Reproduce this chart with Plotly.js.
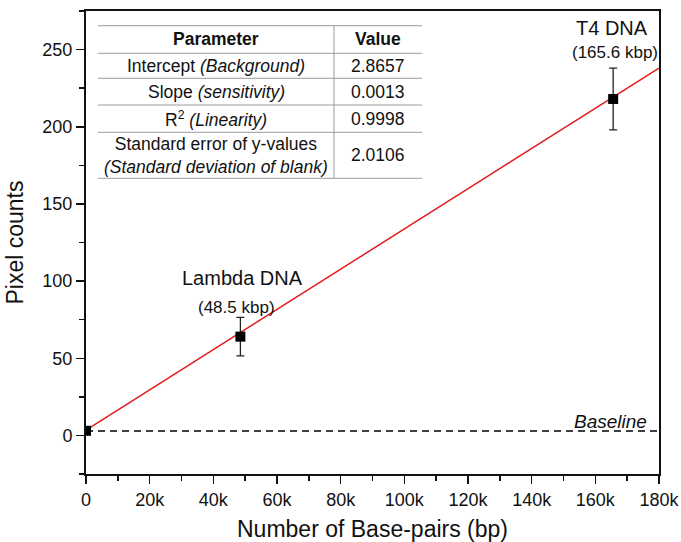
<!DOCTYPE html>
<html>
<head>
<meta charset="utf-8">
<script src="https://cdn.plot.ly/plotly-3.0.1.min.js"></script>
<style>html,body{margin:0;padding:0;background:#fff;}#chart{width:681px;height:542px;}</style>
</head>
<body>
<div id="chart"></div>
<script>
// ---- data ----
const sampleNames = ["Blank", "Lambda DNA", "T4 DNA"];
const sizeLabels = ["", "(48.5 kbp)", "(165.6 kbp)"];
const basePairs = [0, 48500, 165600];
const pixelCounts = [3, 64, 218];
const pixelErrors = [1, 12.5, 20];
const fitX = [0, 180000];
const fitY = [3.5, 238];
const baselineY = 2.8657;
const xTickVals = [0, 20000, 40000, 60000, 80000, 100000, 120000, 140000, 160000, 180000];
const xTickText = ["0", "20k", "40k", "60k", "80k", "100k", "120k", "140k", "160k", "180k"];
const yTickVals = [0, 50, 100, 150, 200, 250];
const tableHeader = ["Parameter", "Value"];
const tableParams = ["Intercept <i>(Background)</i>", "Slope <i>(sensitivity)</i>", "R<sup>2</sup> <i>(Linearity)</i>", "Standard error of y-values<br><i>(Standard deviation of blank)</i>"];
const tableValues = ["2.8657", "0.0013", "0.9998", "2.0106"];

// ---- layout geometry ----
const W = 681, H = 542;
const M = {l: 86, r: 22, t: 11, b: 68};
const PW = W - M.l - M.r, PH = H - M.t - M.b;
const px = x => (x - M.l) / PW;
const py = y => (H - M.b - y) / PH;
const FONT = "Liberation Sans, Arial, sans-serif";
const TXT = "#111";

const traces = [
  {x: fitX, y: fitY, mode: "lines", line: {color: "#e41a1c", width: 1.5}, hoverinfo: "skip", showlegend: false},
  {x: [fitX[0], fitX[1]], y: [baselineY, baselineY], mode: "lines", line: {color: "#000", width: 1.4, dash: "7px,5px"}, showlegend: false},
  {x: basePairs, y: pixelCounts, mode: "markers", marker: {symbol: "square", size: 10, color: "#000"},
   error_y: {type: "data", array: pixelErrors, visible: true, color: "#222", thickness: 1.3, width: 4}, showlegend: false}
];

const annotations = [];
const ann = (o) => annotations.push(Object.assign({showarrow: false, xanchor: "center", yanchor: "middle"}, o));
// point labels
ann({x: 165100, y: 264.3, text: sampleNames[2], font: {family: FONT, size: 20, color: TXT}});
ann({x: 166100, y: 248, text: sizeLabels[2], font: {family: FONT, size: 17, color: TXT}});
ann({x: 49300, y: 101.8, text: sampleNames[1], font: {family: FONT, size: 20, color: TXT}});
ann({x: 47150, y: 82.8, text: sizeLabels[1], font: {family: FONT, size: 17, color: TXT}});
ann({x: 176800, y: 8.7, xanchor: "right", text: "<i>Baseline</i>", font: {family: FONT, size: 19, color: TXT}});

// table
const rowLines = [25.7, 53.3, 78.3, 105, 132.3, 178.3];
const tL = 98, tR = 422, tSep = 334;
const shapes = rowLines.map(y => ({type: "line", xref: "paper", yref: "paper", x0: px(tL), x1: px(tR), y0: py(y), y1: py(y), line: {color: "#9a9a9a", width: 1}}));
shapes.push({type: "line", xref: "paper", yref: "paper", x0: px(tSep), x1: px(tSep), y0: py(rowLines[0]), y1: py(rowLines[rowLines.length - 1]), line: {color: "#9a9a9a", width: 1}});
const c1 = (tL + tSep) / 2, c2 = (tSep + tR) / 2;
const TF = {family: FONT, size: 17.5, color: TXT};
ann({xref: "paper", yref: "paper", x: px(c1), y: py(39.5), text: "<b>" + tableHeader[0] + "</b>", font: TF});
ann({xref: "paper", yref: "paper", x: px(c2), y: py(39.5), text: "<b>" + tableHeader[1] + "</b>", font: TF});
for (let i = 0; i < tableParams.length; i++) {
  const yc = (rowLines[i + 1] + rowLines[i + 2]) / 2;
  ann({xref: "paper", yref: "paper", x: px(c1), y: py(yc), text: tableParams[i], font: TF});
  ann({xref: "paper", yref: "paper", x: px(c2), y: py(yc), text: tableValues[i], font: TF});
}

const layout = {
  width: W, height: H,
  margin: M,
  paper_bgcolor: "#fff", plot_bgcolor: "#fff",
  font: {family: FONT, color: TXT},
  showlegend: false,
  xaxis: {
    range: [0, 180000], tickvals: xTickVals, ticktext: xTickText,
    ticks: "outside", ticklen: 8, tickwidth: 1.5, tickcolor: TXT,
    showline: true, linewidth: 2, linecolor: TXT, mirror: true, showgrid: false, zeroline: false,
    tickfont: {family: FONT, size: 18, color: TXT},
    minor: {dtick: 10000, ticks: "outside", ticklen: 5, tickwidth: 1.5, tickcolor: TXT, showgrid: false},
    title: {text: "Number of Base-pairs (bp)", font: {family: FONT, size: 23, color: TXT}, standoff: 14}
  },
  yaxis: {
    range: [-25, 275], tickvals: yTickVals,
    ticks: "outside", ticklen: 8, tickwidth: 1.5, tickcolor: TXT,
    showline: true, linewidth: 2, linecolor: TXT, mirror: true, showgrid: false, zeroline: false,
    tickfont: {family: FONT, size: 18, color: TXT},
    minor: {dtick: 25, ticks: "outside", ticklen: 5, tickwidth: 1.5, tickcolor: TXT, showgrid: false},
    title: {text: "Pixel counts", font: {family: FONT, size: 23, color: TXT}, standoff: 12}
  },
  shapes: shapes,
  annotations: annotations
};

Plotly.newPlot("chart", traces, layout, {displayModeBar: false, staticPlot: true});
</script>
</body>
</html>
